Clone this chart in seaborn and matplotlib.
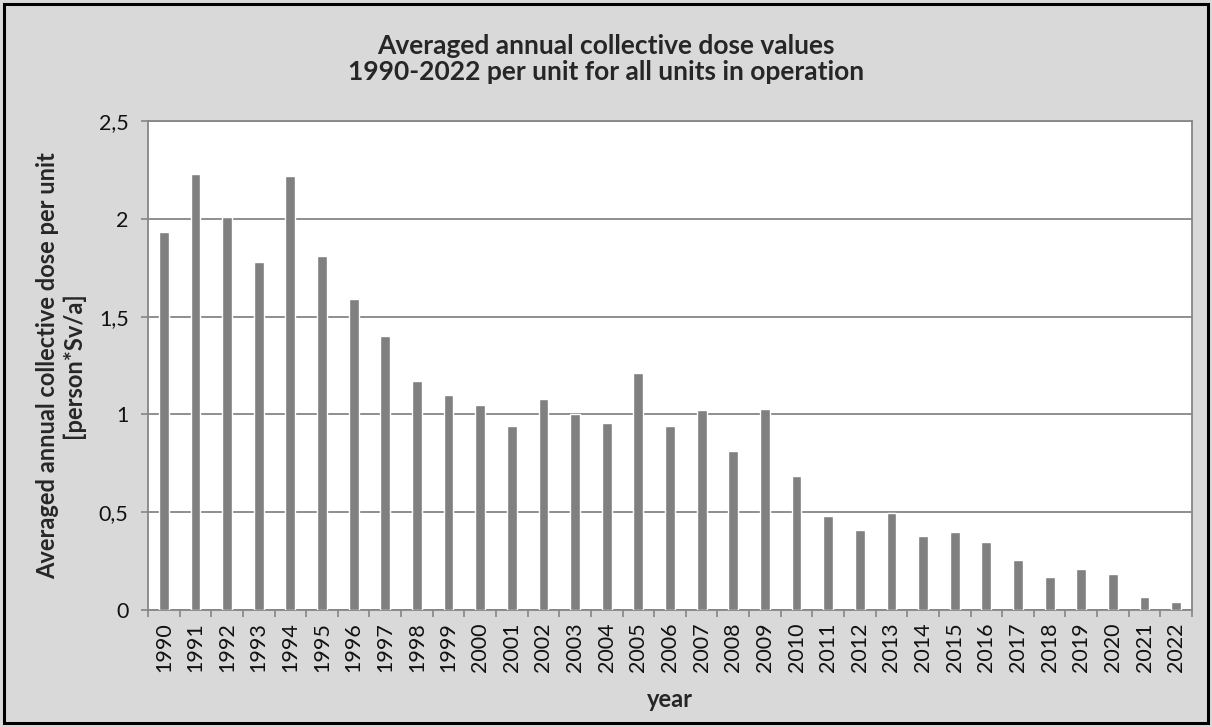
import matplotlib
matplotlib.use("Agg")
import matplotlib.pyplot as plt
import seaborn as sns
import pandas as pd
import numpy as np
from matplotlib.ticker import FixedLocator
from matplotlib.patches import Rectangle

years = [str(y) for y in range(1990, 2023)]
dose = [1.93, 2.23, 2.01, 1.78, 2.22, 1.81, 1.59, 1.40, 1.17, 1.10, 1.05, 0.94,
        1.08, 1.00, 0.955, 1.21, 0.94, 1.02, 0.815, 1.03, 0.685, 0.48, 0.41, 0.495,
        0.38, 0.40, 0.35, 0.255, 0.167, 0.21, 0.186, 0.068, 0.043]
yticks = [0, 0.5, 1, 1.5, 2, 2.5]
ytick_labels = ["0", "0,5", "1", "1,5", "2", "2,5"]

df = pd.DataFrame({"year": years, "dose": dose})

sns.set_theme(style="white")
plt.rcParams['font.family'] = ['Lato', 'DejaVu Sans']

fig = plt.figure(figsize=(12.12, 7.27), dpi=100, facecolor="#d9d9d9")
ax = fig.add_axes([148/1212, 1 - 610/727, (1192-148)/1212, (610-121)/727])
ax.set_facecolor("white")

sns.barplot(data=df, x="year", y="dose", color="#808080", width=0.31,
            saturation=1, ax=ax, zorder=3)

ax.set_xlim(-0.5, len(years) - 0.5)
ax.set_ylim(0, 2.5)
ax.set_yticks(yticks)
ax.set_yticklabels(ytick_labels, fontsize=15.5, color="#111111")
ax.yaxis.grid(True, color="#868686", linewidth=1.3, zorder=0)
ax.set_axisbelow(True)

ax.set_xticks(range(len(years)))
ax.set_xticklabels(years, rotation=90, fontsize=15.5, color="#111111")
ax.xaxis.set_minor_locator(FixedLocator(np.arange(-0.5, len(years), 1)))
ax.tick_params(axis="x", which="major", length=0, pad=9)
ax.tick_params(axis="x", which="minor", length=5, width=1.2, color="#868686", bottom=True)
ax.tick_params(axis="y", which="major", length=5, width=1.2, color="#868686", left=True, pad=9)

for s in ["left", "bottom", "top", "right"]:
    ax.spines[s].set_visible(True)
    ax.spines[s].set_color("#868686")
    ax.spines[s].set_linewidth(1.3)

ax.set_xlabel("year", fontsize=17, fontweight="bold", labelpad=11)
ax.set_ylabel("Averaged annual collective dose per unit\n[person*Sv/a]",
              fontsize=17, fontweight="bold", labelpad=10, linespacing=1.15)

fig.text(0.5, 1 - 59/727, "Averaged annual collective dose values\n1990-2022 per unit for all units in operation",
         ha="center", va="center", fontsize=19, fontweight="bold", linespacing=1.15)

fig.patches.append(Rectangle((4/1212, 4/727), 1 - 8/1212, 1 - 8/727, transform=fig.transFigure,
                             fill=False, edgecolor="black", linewidth=2.2))

fig.savefig("out.png", dpi=100, facecolor=fig.get_facecolor())
